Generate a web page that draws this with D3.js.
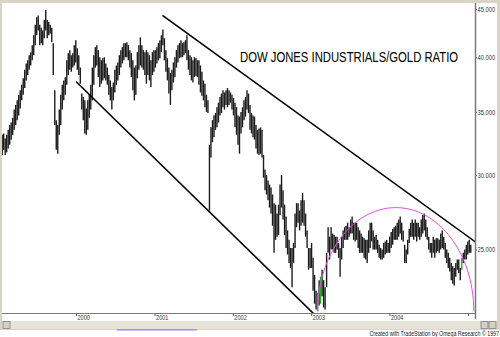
<!DOCTYPE html>
<html>
<head>
<meta charset="utf-8">
<script src="https://cdn.jsdelivr.net/npm/d3@7"></script>
<style>
html, body { margin: 0; padding: 0; background: #d8d4c6; }
svg { display: block; font-family: Arial, "Liberation Sans", sans-serif; }
</style>
</head>
<body>
<svg id="chart" width="500" height="337"></svg>
<script>
// weekly bars, first one in the week of 22 jan 1999
var firstWeek = "1999-01-22";
var highs = [
  33.1,33.2,32.8,33.1,33.5,33.9,34.1,34.5,35.2,35.6,36.0,36.5,36.9,37.4,38.0,38.8,39.4,39.7,40.2,40.5,
  41.2,42.2,43.3,44.1,44.3,43.3,43.0,42.7,43.8,44.9,43.8,43.6,43.3,43.0,41.4,36.9,34.3,33.9,35.2,36.5,
  37.4,37.8,38.1,39.7,40.4,40.7,40.2,40.4,41.2,41.7,40.9,40.2,39.0,36.6,36.3,36.0,35.3,36.0,36.5,37.4,
  39.0,40.2,41.0,41.2,40.7,40.0,39.7,39.9,40.0,39.4,39.0,38.3,37.8,37.2,37.6,38.8,39.2,39.5,40.2,40.7,
  41.0,41.4,41.4,41.5,41.2,40.7,40.4,39.7,39.0,39.2,40.5,41.2,42.0,41.2,40.7,40.5,40.7,40.5,40.2,39.7,
  40.5,40.7,40.7,41.0,41.4,41.7,42.2,42.8,41.9,40.7,39.9,39.0,38.5,38.8,39.5,40.0,40.7,41.2,41.4,41.7,
  41.4,41.5,41.7,42.2,40.7,40.2,40.0,39.7,40.0,39.9,39.7,39.7,39.2,38.6,37.8,37.5,36.5,36.0,32.3,33.7,
  34.3,34.7,34.9,35.4,35.8,36.3,36.6,36.9,36.7,36.9,37.1,36.9,36.7,36.5,36.2,35.8,35.4,34.7,34.6,35.0,
  35.4,36.0,36.3,36.9,36.6,35.6,34.9,34.7,34.6,33.9,33.5,33.6,33.7,33.5,31.5,30.4,30.0,29.6,29.3,29.1,
  28.6,28.0,27.9,27.3,27.9,29.3,30.0,28.9,27.9,27.1,26.2,25.6,25.1,25.1,25.4,27.3,28.0,28.0,27.5,28.2,
  28.7,28.2,27.3,26.2,25.1,25.1,25.4,24.5,23.5,22.6,22.5,23.2,23.4,23.8,23.2,22.8,24.8,26.4,25.8,26.4,
  26.0,25.9,25.8,25.8,25.4,25.1,25.8,26.2,26.4,26.5,26.7,26.4,26.9,27.1,26.7,26.7,26.7,26.4,26.2,26.0,
  25.8,25.7,25.6,25.6,26.2,26.7,26.7,26.2,25.8,25.9,25.6,25.3,25.1,25.0,25.4,25.5,25.6,25.4,25.8,26.1,
  26.3,26.4,26.5,26.7,26.9,27.1,26.7,26.2,25.3,25.0,25.6,26.3,26.7,26.9,26.7,26.9,26.7,26.7,26.4,26.9,
  27.2,27.3,26.9,26.4,25.8,25.4,25.4,25.8,25.6,25.7,25.7,25.6,26.0,26.2,25.8,25.4,25.0,24.8,24.5,24.2,
  24.0,23.9,24.2,24.4,24.4,23.9,24.5,24.8,25.0,25.3,25.5,25.6,25.3
];
var lows = [
  31.5,31.9,31.5,31.7,32.0,32.3,32.7,33.1,33.5,33.9,34.3,34.7,35.3,36.0,36.5,37.1,37.8,38.3,38.8,39.2,
  39.7,40.2,41.2,42.2,42.7,41.2,41.4,41.2,41.9,42.7,41.9,42.2,42.4,41.5,38.3,33.9,31.9,31.6,33.1,33.9,
  35.2,36.0,36.5,37.4,38.3,38.8,38.6,39.0,39.2,39.5,38.8,38.3,37.5,35.2,34.3,33.2,33.1,33.5,34.5,35.2,
  36.0,37.4,39.0,39.2,38.1,37.2,37.5,37.8,38.0,37.8,37.4,36.5,36.0,35.2,36.0,36.7,37.4,37.8,38.3,39.0,
  39.4,39.7,40.0,40.0,39.7,39.0,38.1,36.9,36.0,36.5,38.0,38.8,39.2,39.0,38.8,38.3,37.5,38.3,37.8,37.2,
  38.3,38.6,39.0,39.4,39.7,39.9,40.5,41.2,39.7,38.6,37.8,36.6,35.6,36.9,37.6,38.1,39.0,39.5,39.9,40.0,
  40.0,40.2,40.4,39.7,38.8,38.3,37.8,37.6,38.1,38.2,38.1,37.4,36.7,36.4,36.0,35.4,35.0,34.9,27.5,31.3,
  32.5,32.9,33.5,33.7,34.1,34.7,34.9,35.4,35.2,35.6,35.4,35.6,35.8,35.2,34.7,33.7,33.1,32.3,31.6,33.2,
  33.7,34.3,34.6,35.2,34.9,33.5,33.2,32.9,32.7,32.0,31.6,31.5,31.6,31.3,29.8,28.9,28.6,28.2,27.7,27.3,
  26.5,24.8,25.6,25.8,25.9,27.2,27.7,26.9,25.9,25.1,24.7,24.2,23.9,22.8,24.2,25.1,26.4,26.7,26.2,26.5,
  26.7,26.5,25.8,25.1,23.8,23.9,23.9,22.6,21.9,21.6,21.5,21.8,21.9,22.3,21.7,21.6,22.8,24.8,24.4,25.0,
  25.0,24.8,24.8,25.0,24.5,23.4,24.4,25.1,25.6,25.6,25.6,25.8,26.0,26.0,25.6,25.5,25.6,25.1,24.8,24.8,
  24.8,24.5,24.4,24.2,24.8,25.1,25.5,25.0,25.0,25.0,24.8,24.5,24.4,24.4,24.5,24.7,24.8,24.8,24.8,25.1,
  25.3,25.6,25.6,25.6,25.8,26.0,25.6,25.5,24.2,24.2,24.7,25.4,25.8,25.8,25.6,25.8,25.5,25.8,25.6,25.8,
  26.0,26.2,25.8,25.6,25.0,24.8,24.5,24.8,24.5,24.8,24.9,24.8,25.0,25.1,25.0,24.5,24.2,23.9,23.7,23.2,
  23.0,22.9,23.4,23.8,23.6,23.2,23.8,24.2,24.4,24.4,24.7,24.8,24.8
];
var greenBars = [210, 212, 306];

var yearTicks = ["2000-01-01","2001-01-01","2002-01-01","2003-01-01","2004-01-01","2005-01-01"];
var yearLabels = ["2000","2001","2002","2003","2004",""];
var priceTicks = [25, 30, 35, 40, 45];

// trend lines and the arc, in date / ratio units
var upperLine = [["2001-02-07", 44.3], ["2005-02-12", 25.4]];
var lowerLine = [["2000-01-01", 37.7], ["2003-01-24", 21.25]];
var arcDates = ["2003-02-01", "2005-01-28"];
var arcBase = 21.5, arcTop = 27.7;

var title = "DOW JONES INDUSTRIALS/GOLD RATIO";
var credit = "Created with TradeStation by Omega Research \u00a9 1997";

var parse = d3.timeParse("%Y-%m-%d");
var svg = d3.select("#chart");

var plotL = 2, plotR = 475, plotT = 3, plotB = 313;

var x = d3.scaleTime()
    .domain([parse("2000-01-01"), parse("2005-01-01")])
    .range([76, 468]);
var y = d3.scaleLog()
    .domain([21.41, 45.67])
    .range([plotB, plotT]);

// white window
svg.append("rect").attr("x", 2).attr("y", 3).attr("width", 495).attr("height", 318).attr("fill", "#fff");
svg.append("rect").attr("x", 0).attr("y", 330).attr("width", 500).attr("height", 7).attr("fill", "#fff");

svg.append("clipPath").attr("id", "plotclip")
  .append("rect").attr("x", plotL).attr("y", plotT).attr("width", plotR - plotL).attr("height", plotB - plotT);

var plot = svg.append("g").attr("clip-path", "url(#plotclip)");

// bars
var start = parse(firstWeek);
var bars = highs.map(function(h, i) {
    return {date: d3.timeWeek.offset(start, i), hi: h, lo: lows[i], green: greenBars.indexOf(i) >= 0};
});
plot.selectAll("line.bar")
    .data(bars)
    .enter()
    .append("line")
    .attr("class", "bar")
    .attr("x1", function(d) { return x(d.date); })
    .attr("x2", function(d) { return x(d.date); })
    .attr("y1", function(d) { return y(d.hi); })
    .attr("y2", function(d) { return y(d.lo); })
    .attr("stroke", function(d) { return d.green ? "#22b022" : "#1c1c1c"; })
    .attr("stroke-width", 1.4);

// trend lines
var lineGen = d3.line()
    .x(function(d) { return x(parse(d[0])); })
    .y(function(d) { return y(d[1]); });
[upperLine, lowerLine].forEach(function(l) {
    plot.append("path").attr("d", lineGen(l))
        .attr("fill", "none").attr("stroke", "#000").attr("stroke-width", 1.6);
});

// magenta arc
var ax0 = x(parse(arcDates[0])), ax1 = x(parse(arcDates[1]));
var cx = (ax0 + ax1) / 2, rx = (ax1 - ax0) / 2;
var cy = y(arcBase), ry = y(arcBase) - y(arcTop);
var arcPts = d3.range(0, 181, 3).map(function(a) {
    var t = Math.PI - a * Math.PI / 180;
    return [cx + rx * Math.cos(t), cy - ry * Math.sin(t)];
});
plot.append("path").attr("d", d3.line()(arcPts))
    .attr("fill", "none").attr("stroke", "#e050e0").attr("stroke-width", 1);

// right axis
var yAxis = d3.axisRight(y).tickValues(priceTicks).tickFormat(d3.format(".3f")).tickSize(2).tickSizeOuter(0);
var gy = svg.append("g").attr("transform", "translate(" + plotR + ",0)").call(yAxis);
gy.select(".domain").remove();
gy.selectAll("line").attr("stroke", "#555");
gy.selectAll("text").attr("font-size", "5.8px").attr("fill", "#333").attr("x", 2.5)
    .attr("transform", "scale(1,1.25)").attr("font-family", "Arial, sans-serif");
svg.append("line").attr("x1", plotR + 0.5).attr("x2", plotR + 0.5).attr("y1", plotT).attr("y2", plotB + 6)
    .attr("stroke", "#7a7a7a").attr("stroke-width", 1.5);

// bottom axis
var xAxis = d3.axisBottom(x).tickValues(yearTicks.map(parse))
    .tickFormat(function(d, i) { return yearLabels[i]; }).tickSize(3).tickSizeOuter(0);
var gx = svg.append("g").attr("transform", "translate(0," + plotB + ")").call(xAxis);
gx.select(".domain").remove();
gx.selectAll("line").attr("stroke", "#555");
gx.selectAll("text").attr("font-size", "5.6px").attr("fill", "#333").attr("text-anchor", "start")
    .attr("x", 1).attr("y", 2).attr("dy", "0.71em").attr("transform", "scale(1,1.25)")
    .attr("font-family", "Arial, sans-serif");
svg.append("line").attr("x1", plotL).attr("x2", plotR).attr("y1", plotB + 0.5).attr("y2", plotB + 0.5)
    .attr("stroke", "#7a7a7a").attr("stroke-width", 1.2);

// title, tall and narrow like the original screen font
svg.append("text").attr("transform", "translate(240,62) scale(1,1.23)").text(title)
    .attr("font-size", "11.3px").attr("fill", "#000");

// scrollbar
svg.append("rect").attr("x", 2).attr("y", 321).attr("width", 495).attr("height", 8).attr("fill", "#e6e3d8");
var btn = function(bx) {
    svg.append("rect").attr("x", bx).attr("y", 321.5).attr("width", 7).attr("height", 7)
        .attr("fill", "#d4d0c8").attr("stroke", "#808080").attr("stroke-width", 0.8);
};
btn(3); btn(481); btn(489);
svg.append("rect").attr("x", 117).attr("y", 329).attr("width", 80).attr("height", 1.5).attr("fill", "#9c8cf0");

// credit
svg.append("text").attr("transform", "translate(499,336) scale(1,1.3)").attr("text-anchor", "end").text(credit)
    .attr("font-size", "5.3px").attr("fill", "#222");
</script>
</body>
</html>
